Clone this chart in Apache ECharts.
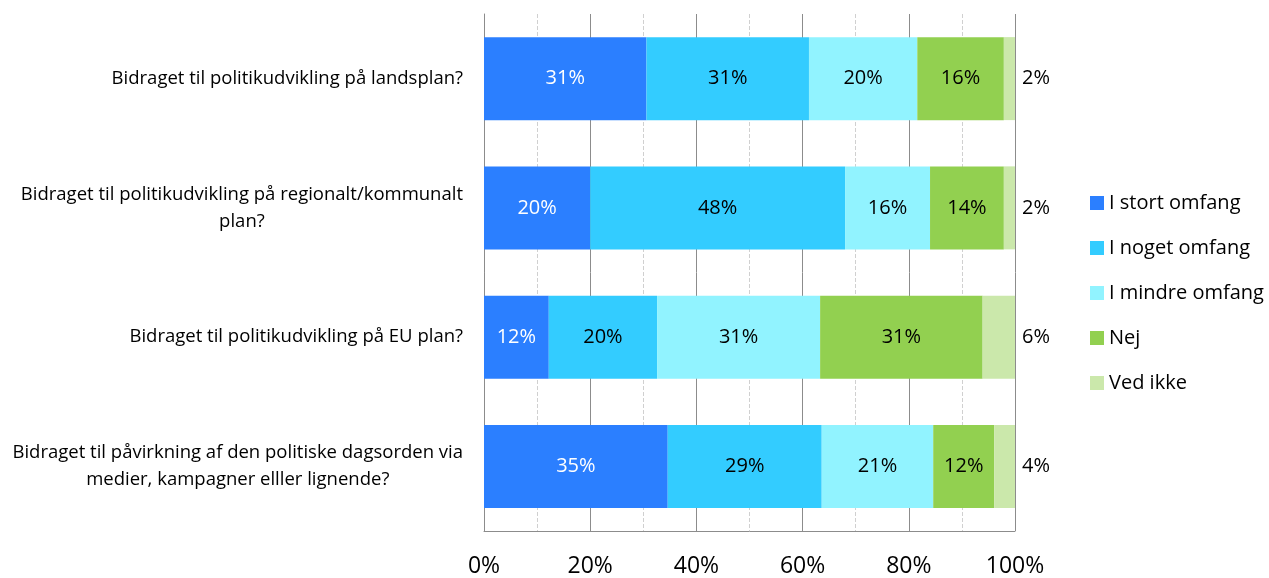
<!DOCTYPE html>
<html>
<head>
<meta charset="utf-8">
<script src="https://cdn.jsdelivr.net/npm/echarts@6/dist/echarts.min.js"></script>
<style>
  html, body { margin: 0; padding: 0; background: #fff; }
  #main { width: 1269px; height: 578px; }
</style>
</head>
<body>
<div id="main"></div>
<script>
// categories, top to bottom
var categories = [
  "Bidraget til politikudvikling på landsplan?",
  "Bidraget til politikudvikling på regionalt/kommunalt\nplan?",
  "Bidraget til politikudvikling på EU plan?",
  "Bidraget til påvirkning af den politiske dagsorden via\nmedier, kampagner elller lignende?"
];

var seriesNames = ["I stort omfang", "I noget omfang", "I mindre omfang", "Nej", "Ved ikke"];

// percentages per category
var stortOmfang = [30.6, 20.0, 12.2, 34.6];
var nogetOmfang = [30.6, 48.0, 20.4, 29.0];
var mindreOmfang = [20.4, 16.0, 30.7, 21.0];
var nej = [16.3, 13.9, 30.6, 11.5];
var vedIkke = [2.1, 2.1, 6.1, 3.9];

var xTicks = [0, 20, 40, 60, 80, 100];

var colors = ["#2b7fff", "#33ccff", "#91f3ff", "#92d050", "#cbe8ab"];
var labelColors = ["#ffffff", "#000000", "#000000", "#000000", "#000000"];
var values = [stortOmfang, nogetOmfang, mindreOmfang, nej, vedIkke];

var font = "'Open Sans', 'Liberation Sans', sans-serif";

var chart = echarts.init(document.getElementById("main"));

var series = seriesNames.map(function (name, i) {
  var last = i === seriesNames.length - 1;
  return {
    name: name,
    type: "bar",
    stack: "total",
    barWidth: 83,
    itemStyle: { color: colors[i] },
    label: {
      show: true,
      position: last ? "right" : "inside",
      distance: 7,
      color: labelColors[i],
      fontFamily: font,
      fontSize: 20,
      formatter: function (p) { return Math.round(p.value) + "%"; }
    },
    data: values[i]
  };
});

var option = {
  animation: false,
  textStyle: { fontFamily: font },
  grid: { left: 484, right: 254, top: 14, bottom: 47 },
  legend: {
    orient: "vertical",
    left: 1085,
    top: 188,
    itemWidth: 14,
    itemHeight: 14,
    itemGap: 25,
    icon: "rect",
    textStyle: { fontSize: 20, lineHeight: 20, color: "#000", fontFamily: font },
    data: seriesNames
  },
  xAxis: {
    type: "value",
    min: 0,
    max: 100,
    interval: 20,
    axisLine: { show: true, lineStyle: { color: "#8c8c8c" } },
    axisTick: { show: false },
    axisLabel: {
      fontSize: 23,
      color: "#000",
      margin: 24,
      formatter: function (v) { return xTicks.indexOf(v) >= 0 ? v + "%" : ""; }
    },
    splitLine: { show: true, lineStyle: { color: "#8c8c8c", width: 1 } },
    minorTick: { show: false, splitNumber: 2 },
    minorSplitLine: { show: true, lineStyle: { color: "#d0d0d0", type: "dashed" } }
  },
  yAxis: {
    type: "category",
    inverse: true,
    data: categories,
    axisLine: { show: true, lineStyle: { color: "#8c8c8c" } },
    axisTick: { show: false },
    axisLabel: {
      margin: 21,
      fontSize: 18.5,
      color: "#000",
      lineHeight: 27,
      formatter: function (v) {
        return v.split("\n").map(function (s) { return "{c|" + s + "}"; }).join("\n");
      },
      rich: { c: { align: "center", fontSize: 18.5, lineHeight: 27, color: "#000" } }
    }
  },
  series: series
};

chart.setOption(option);
</script>
</body>
</html>
